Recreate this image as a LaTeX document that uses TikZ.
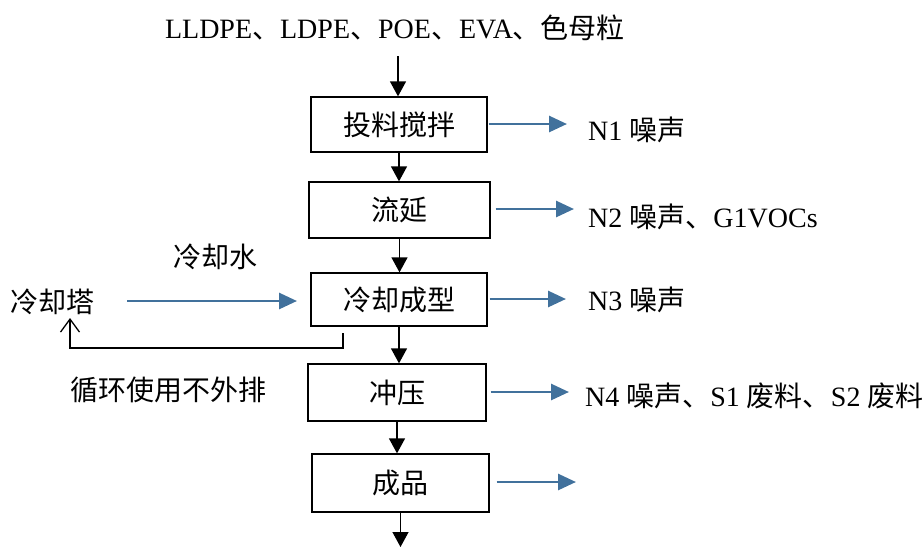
\documentclass[tikz,border=0pt]{standalone}
\usepackage{fontspec}
\setmainfont{Liberation Serif}
\newfontfamily\cjk{Noto Sans CJK SC}
\usetikzlibrary{arrows.meta}
\definecolor{flowblue}{RGB}{65,113,156}
\newcommand{\zh}[1]{{\cjk #1}}
\begin{document}
\begin{tikzpicture}[x=1pt,y=-1pt,
  font=\fontsize{28}{32}\selectfont,
  stagebox/.style={draw,line width=1.3pt,inner sep=0pt},
  flow/.style={line width=1.3pt,-{Triangle[length=15pt,width=16pt]}},
  bluearrow/.style={draw=flowblue,line width=2.8pt,-{Triangle[length=18pt,width=16pt]}},
  lbl/.style={inner sep=0pt,anchor=west}]
\useasboundingbox (0,0) rectangle (924,547);
% boxes
\node[stagebox,minimum width=176pt,minimum height=55pt] (b1) at (399,124.5) {\zh{投料搅拌}};
\node[stagebox,minimum width=181pt,minimum height=56pt] (b2) at (399.5,210) {\zh{流延}};
\node[stagebox,minimum width=176pt,minimum height=53pt] (b3) at (399,299.5) {\zh{冷却成型}};
\node[stagebox,minimum width=178pt,minimum height=57pt] (b4) at (397,392.5) {\zh{冲压}};
\node[stagebox,minimum width=177pt,minimum height=58pt] (b5) at (400.5,483) {\zh{成品}};
% top text
\node[inner sep=0pt] (raw) at (395,28) {LLDPE\zh{、}LDPE\zh{、}POE\zh{、}EVA\zh{、色母粒}};
\coordinate (topin) at (398,56);
\coordinate (botout) at (401,547);
% black flow arrows
\draw[flow] (topin) -- (topin |- b1.north);
\draw[flow] (b1.south) -- (b1.south |- b2.north);
\draw[flow] (b2.south) -- (b2.south |- b3.north);
\draw[flow] (b3.south) -- (b3.south |- b4.north);
\draw[flow] (b4.south) -- (b4.south |- b5.north);
\draw[flow] (b5.south) -- (b5.south |- botout);
% blue output arrows and labels
\coordinate (o1) at (567,124);
\coordinate (o2) at (574,209);
\coordinate (o3) at (566,299);
\coordinate (o4) at (569,392);
\coordinate (o5) at (576,482);
\draw[bluearrow] (b1.east |- o1) ++(1,0) -- (o1);
\draw[bluearrow] (b2.east |- o2) ++(5,0) -- (o2);
\draw[bluearrow] (b3.east |- o3) ++(2,0) -- (o3);
\draw[bluearrow] (b4.east |- o4) ++(4,0) -- (o4);
\draw[bluearrow] (b5.east |- o5) ++(7,0) -- (o5);
\node[lbl] (l1) at (588,130) {N1 \zh{噪声}};
\node[lbl] (l2) at (588,217) {N2 \zh{噪声、}G1VOCs};
\node[lbl] (l3) at (588,300) {N3 \zh{噪声}};
\node[lbl] (l4) at (585,396) {N4 \zh{噪声、}S1 \zh{废料、}S2 \zh{废料}};
% cooling loop
\node[inner sep=0pt] (tower) at (52,302) {\zh{冷却塔}};
\node[inner sep=0pt] (water) at (215,257) {\zh{冷却水}};
\node[inner sep=0pt] (recyc) at (168,390) {\zh{循环使用不外排}};
\coordinate (win) at (127,301);
\coordinate (wout) at (297,301);
\draw[bluearrow] (win) -- (wout);
\coordinate (r0) at (343,333);
\coordinate (r1) at (343,348);
\coordinate (r2) at (70,348);
\coordinate (r3) at (70,318);
\draw[line width=1.3pt,-{Straight Barb[length=13pt,width=19pt]}] (r0) -- (r1) -- (r2) -- (r3);
\end{tikzpicture}
\end{document}
